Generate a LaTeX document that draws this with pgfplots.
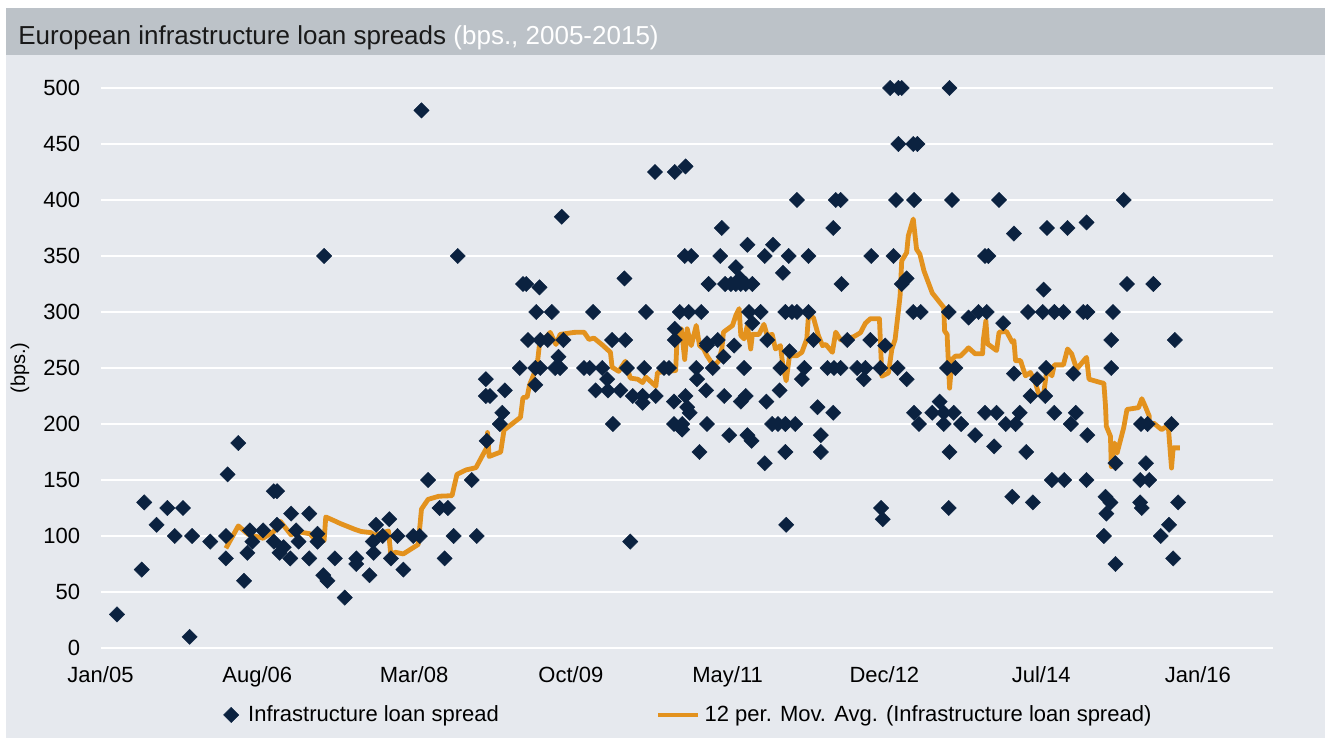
\documentclass[border=0pt]{standalone}
\usepackage{fontspec}
\setmainfont{Liberation Sans}
\usepackage{pgfplots}
\pgfplotsset{compat=1.18}
\usepackage{xcolor}
\definecolor{bgpanel}{HTML}{E6E9EE}
\definecolor{titlebar}{HTML}{BCC2C8}
\definecolor{navy}{HTML}{0B2240}
\definecolor{mavg}{HTML}{E3921E}
\pgfplotsset{
  scatlegend/.style={legend image code/.code={\path[draw=none,fill=none] (0pt,-3pt) rectangle (13pt,3pt);
      \draw[mark repeat=2,mark phase=2,##1] plot coordinates {(0pt,0pt) (6.5pt,0pt) (13pt,0pt)};}},
  linelegend/.style={legend image code/.code={\draw[##1] (0pt,0pt) -- (20pt,0pt);}},
}

\begin{document}
\begin{tikzpicture}
% panel and title bar
\fill[bgpanel] (3pt,0pt) rectangle (662.5pt,341.5pt);
\fill[titlebar] (3pt,341.5pt) rectangle (662.5pt,365pt);
\node[anchor=base west, inner sep=0pt, font=\fontsize{13}{15}\selectfont, text=black!90]
  at (9pt,346.5pt) {European infrastructure loan spreads \textcolor{white}{(bps., 2005-2015)}};

\begin{axis}[
    at={(50.25pt,45pt)}, anchor=south west,
    scale only axis,
    width=586.25pt, height=280pt,
    xmin=0, xmax=142.1,
    ymin=0, ymax=500,
    xtick={0,19,38,57,76,95,114,133},
    xticklabels={Jan/05,Aug/06,Mar/08,Oct/09,May/11,Dec/12,Jul/14,Jan/16},
    ytick={0,50,...,500},
    axis line style={draw=none},
    tick style={draw=none},
    major tick length=0pt,
    ymajorgrids,
    grid style={white, line width=0.85pt},
    ticklabel style={font=\fontsize{11}{13}\selectfont, inner sep=0pt},
    /pgf/number format/assume math mode=true,
    yticklabel shift=10pt,
    xticklabel shift=9pt,
    ylabel={(bps.)},
    ylabel style={font=\fontsize{11}{13}\selectfont},
    every axis y label/.style={at={(axis description cs:-0.0687,0.5)}, rotate=90, anchor=center},
    clip=false,
    legend columns=2,
    legend style={at={(0.1,-0.1196)}, anchor=west, draw=none, fill=none,
        inner sep=0pt, font=\fontsize{11}{13}\selectfont,
        /tikz/every even column/.append style={column sep=76.5pt}},
]

\addplot[only marks, mark=square*, mark size=2.7pt,
    mark options={rotate=45, fill=navy, draw=navy, line width=0.2pt}, scatlegend]
coordinates {
(2.0,30) (5.0,70) (5.3,130) (6.8,110) (8.1,125) (9.0,100) (10.0,125) (10.8,10)
(11.1,100) (13.3,95) (15.2,80) (15.2,100) (15.4,155) (16.7,183) (17.4,60) (17.8,85)
(18.1,105) (18.4,95) (19.7,105) (21.0,140) (21.4,140) (21.0,95) (21.4,110) (21.7,85)
(22.2,90) (23.0,80) (23.1,120) (23.7,105) (24.0,95) (25.3,120) (25.3,80) (26.3,102)
(26.3,95) (27.0,65) (27.5,60) (27.1,350) (28.4,80) (29.6,45)
(31.0,80) (31.0,75) (32.6,65) (33.0,95) (33.1,85) (33.4,110) (34.2,100) (35.0,115)
(35.2,80) (36.0,100) (36.7,70) (37.9,100) (38.7,100) (38.9,480) (39.7,150) (41.1,125)
(42.1,125) (41.7,80) (42.8,100) (43.3,350) (45.0,150) (45.6,100) (46.7,240) (46.7,225)
(47.2,225) (46.8,185) (48.4,200) (48.7,210) (49.0,230) (50.8,250) (51.2,325) (51.6,325)
(51.8,275) (52.7,250) (53.3,250) (52.7,235) (52.8,300) (53.2,322) (53.3,275) (54.2,275)
(54.7,300) (55.1,250) (55.7,250) (55.5,260) (55.9,385) (56.1,275)
(58.6,250) (59.3,250) (60.8,250) (59.7,300) (60.0,230) (61.4,240) (61.5,230) (62.0,275)
(62.1,200) (63.0,230) (63.5,330) (63.6,275) (63.8,250) (64.2,95) (64.5,225) (65.7,225)
(65.7,219) (65.9,250) (66.1,300) (67.2,425) (67.3,225) (68.3,250) (68.9,250) (69.5,220)
(69.5,200) (69.6,425) (69.6,285) (69.6,275) (70.2,300) (70.5,200) (70.5,195) (70.8,350)
(71.6,350) (70.9,430) (70.9,225) (71.1,215) (71.4,210) (71.3,300) (72.2,250) (72.3,240)
(72.6,175) (72.8,300) (73.4,230) (73.5,272) (73.5,200) (73.7,325)
(73.5,270) (74.2,250) (74.8,275) (75.1,350) (75.3,375) (75.5,260) (75.6,225) (75.7,325)
(76.4,325) (77.0,325) (77.6,325) (78.2,325) (79.0,325) (76.2,190) (76.8,270) (77.0,340)
(77.5,330) (77.6,220) (78.2,225) (78.0,250) (78.4,360) (78.4,190) (78.9,185) (78.6,300)
(80.0,300) (79.0,290) (80.5,350) (80.5,165) (80.7,220) (80.8,275) (81.4,200) (82.1,200)
(83.0,200) (84.2,200) (81.5,360) (82.3,230) (82.4,250) (82.7,335) (83.0,300) (83.8,300)
(84.4,300) (85.8,300) (83.0,175) (83.1,110) (83.4,350) (83.5,265) (84.4,400) (85.0,240)
(85.3,250) (85.8,350) (86.4,275) (86.9,215) (87.3,190) (87.3,175) (88.1,250) (88.9,250)
(89.7,250) (88.8,375) (88.8,210) (89.1,400) (89.7,400) (89.8,325) (90.5,275)
(91.7,250) (92.7,250) (92.5,240) (93.3,275) (93.4,350) (94.5,250) (94.6,125) (94.8,115)
(95.1,270) (95.7,500) (96.7,500) (97.1,500) (96.1,350) (96.4,400) (96.6,250) (96.7,450)
(97.1,325) (97.7,330) (97.7,240) (98.5,450) (99.0,450) (98.5,300) (99.4,300) (98.6,400)
(98.6,210) (99.2,200) (100.8,210) (101.7,220) (102.2,210) (103.4,210) (102.2,200) (104.3,200)
(102.6,250) (103.6,250) (102.8,300) (102.8,125) (102.9,500) (102.9,175) (103.2,400) (105.2,295)
(106.0,190) (106.4,300) (107.4,300) (107.2,350) (107.6,350) (107.2,210) (108.6,210) (108.3,180)
(108.9,400) (109.4,290) (109.7,200) (110.9,200) (110.5,135) (110.7,370) (110.7,245) (111.4,210)
(112.2,175) (112.4,300) (112.7,225) (113.0,130) (113.5,240) (114.2,300) (114.3,320) (114.5,225)
(114.6,250) (114.7,375) (115.3,150) (115.6,300) (115.6,210) (116.7,300) (116.8,150) (117.2,375)
(117.6,200) (117.9,245) (118.2,210) (119.1,300) (119.6,300) (119.5,380) (119.5,150) (119.6,190)
(121.6,100) (121.8,135) (121.9,120) (122.4,130) (122.5,275) (122.5,250) (122.7,300) (123.0,165)
(123.0,75) (124.0,400) (124.4,325) (126.0,150) (126.0,130) (126.2,125) (126.1,200) (126.9,200)
(126.7,165) (127.1,150) (127.6,325) (128.5,100) (129.5,110) (129.8,200) (130.0,80) (130.2,275)
(130.6,130)
};
\addlegendentry{Infrastructure loan spread}

\addplot[mavg, line width=2.4pt, line join=round, no markers, linelegend]
coordinates {
(15.2,89) (16.7,109) (17.9,101.5) (19.7,98) (21.0,104) (21.8,113) (23.1,101) (23.8,104)
(25.4,102) (26.0,96.5) (27.1,96) (27.3,117) (28.4,113.4)
(29.1,111) (30.8,106) (31.6,104) (32.8,103) (33.2,100.6) (34.9,104.5) (35.2,82) (35.7,85.5)
(36.7,84) (38.5,92.4) (38.9,124) (39.7,132.7) (41.0,135.5) (42.6,136) (43.2,155) (44.3,159)
(45.5,161) (46.8,178.8) (46.9,192.4) (47.1,171) (48.5,175) (48.9,194.5) (50.9,206) (51.2,223.6)
(51.7,224) (52.0,235) (52.9,251.5) (53.2,271) (54.5,281.8) (55.2,271) (55.7,280) (57.4,281.8)
(58.6,282) (59.2,275.5) (59.8,276.7) (60.8,270.7) (61.8,264) (62.0,250.7) (62.8,247) (63.6,256)
(64.2,241) (65.1,240) (65.7,237) (66.1,241.8) (67.3,233.7) (67.5,246) (69.7,247.8) (69.9,279)
(70.4,285) (70.8,257.6) (71.1,285) (71.6,270) (72.2,288) (72.6,270) (73.1,267)
(73.5,261) (74.3,252) (74.9,256) (75.3,267) (75.5,282) (76.6,288) (77.0,297) (77.4,303)
(77.6,279) (78.0,276) (78.4,288) (78.8,267) (79.0,280) (79.8,280) (80.4,289) (80.8,279)
(81.4,280) (81.8,267) (82.4,270) (82.7,252) (83.1,238.5) (83.5,261) (84.4,261) (85.0,264)
(85.6,276) (85.8,297) (86.4,295) (87.0,279) (87.5,270) (87.9,271) (88.7,264) (89.1,282)
(89.7,275) (91.3,278) (92.1,281.5) (92.7,290) (93.3,294) (94.4,294) (94.7,242.7) (95.5,245.7)
(95.9,266.6) (96.3,275.5) (96.9,314) (97.1,345.7) (97.7,353) (97.9,368) (98.5,383) (98.9,356)
(99.3,351.6) (99.8,336.7) (100.8,317) (102.2,304) (102.3,283) (102.6,280) (102.9,232) (103.2,257.6)
(103.6,260.6) (104.2,260.6) (105.2,268) (106.0,262.7) (106.9,262.7) (107.0,275.5) (107.3,292)
(107.5,271.6) (107.8,270) (108.6,265.6) (108.9,282) (109.8,282.6) (110.5,273) (110.7,274.5)
(110.9,256.6) (111.5,256.6) (112.1,243) (112.7,246) (113.3,237) (113.7,226.8) (114.3,226.8)
(114.7,249) (115.3,243) (115.6,252.8) (116.7,252.8) (117.2,267) (117.7,262.6) (118.3,249)
(119.5,259.5) (119.8,240) (121.2,237) (121.6,236.4) (121.8,216) (121.9,198) (122.4,189)
(122.5,162) (122.9,183) (123.2,174) (124.0,196.6) (124.4,213) (125.8,214.6) (126.2,222.6)
(126.6,216) (127.1,207) (127.1,198) (127.6,201) (128.6,195) (129.4,198.7) (129.8,160.7)
(130.0,178.7) (130.8,178.7)
};
\addlegendentry{12 per. Mov. Avg. (Infrastructure loan spread)}
\end{axis}

\pgfresetboundingbox
\path[use as bounding box] (0pt,0pt) rectangle (662.5pt,369pt);
\end{tikzpicture}
\end{document}
